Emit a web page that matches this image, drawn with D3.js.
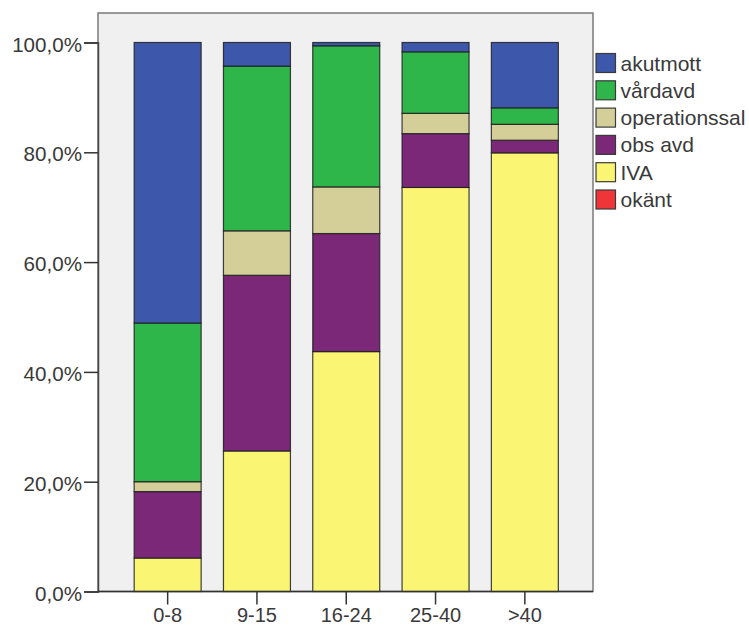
<!DOCTYPE html>
<html>
<head>
<meta charset="utf-8">
<script src="https://cdn.jsdelivr.net/npm/d3@7"></script>
<style>
  html, body { margin: 0; padding: 0; background: #ffffff; }
  svg { display: block; }
  text { font-family: "Liberation Sans", Arial, sans-serif; }
</style>
</head>
<body>
<svg id="chart" width="749" height="627"></svg>
<script>
// ---- Data ----
const categories = ["0-8", "9-15", "16-24", "25-40", ">40"];
const seriesNames = ["IVA", "obs avd", "operationssal", "vårdavd", "akutmott", "okänt"];
const IVA           = [6.1, 25.6, 43.7, 73.6, 79.9];
const obsAvd        = [12.1, 32.0, 21.5, 9.8, 2.3];
const operationssal = [1.8, 8.1, 8.5, 3.7, 2.9];
const vardavd       = [28.9, 30.0, 25.7, 11.2, 3.0];
const akutmott      = [51.1, 4.3, 0.6, 1.7, 11.9];
const okant         = [0, 0, 0, 0, 0];
const yTicks = [0, 20, 40, 60, 80, 100];
const legendOrder = ["akutmott", "vårdavd", "operationssal", "obs avd", "IVA", "okänt"];

const colors = {
  "akutmott": "#3d58aa",
  "vårdavd": "#2fb64a",
  "operationssal": "#d4cf98",
  "obs avd": "#7b2879",
  "IVA": "#faf572",
  "okänt": "#ef3538"
};

const rows = categories.map((c, i) => ({
  cat: c,
  "IVA": IVA[i],
  "obs avd": obsAvd[i],
  "operationssal": operationssal[i],
  "vårdavd": vardavd[i],
  "akutmott": akutmott[i],
  "okänt": okant[i]
}));

// ---- Layout ----
const svg = d3.select("#chart");
const frame = { left: 98, top: 13, right: 593, bottom: 591.5 };

const x = d3.scaleBand()
  .domain(categories)
  .range([123, 569.5])
  .paddingInner(0.25)
  .paddingOuter(0.125);

const y = d3.scaleLinear()
  .domain([0, 100])
  .range([591.5, 42.5]);

// plot background
svg.append("rect")
  .attr("x", frame.left).attr("y", frame.top)
  .attr("width", frame.right - frame.left)
  .attr("height", frame.bottom - frame.top)
  .attr("fill", "#f0f0f0")
  .attr("stroke", "#7a7a7a")
  .attr("stroke-width", 1.5);

// stacked bars
const stack = d3.stack().keys(seriesNames);
const stacked = stack(rows);

const g = svg.append("g");
stacked.forEach(layer => {
  g.selectAll(null)
    .data(layer.filter(d => d[1] - d[0] > 0))
    .enter()
    .append("rect")
    .attr("x", d => x(d.data.cat))
    .attr("y", d => y(d[1]))
    .attr("width", x.bandwidth())
    .attr("height", d => y(d[0]) - y(d[1]))
    .attr("fill", colors[layer.key])
    .attr("stroke", "#1e1e1e")
    .attr("stroke-opacity", 0.85)
    .attr("stroke-width", 1.2);
});

// Y axis
const yAxis = d3.axisLeft(y)
  .tickValues(yTicks)
  .tickSize(14)
  .tickPadding(2)
  .tickFormat(d => d3.format(".1f")(d).replace(".", ",") + "%");

const yg = svg.append("g")
  .attr("transform", `translate(${frame.left},0)`)
  .call(yAxis);
yg.select(".domain").attr("stroke", "#444").attr("stroke-width", 1.5);
yg.selectAll(".tick line").attr("stroke", "#333").attr("stroke-width", 1.5);
yg.selectAll(".tick text")
  .attr("fill", "#3a3a3a")
  .attr("font-size", "20.6px")
  .attr("dy", "0.42em");

// X axis
const xAxis = d3.axisBottom(x).tickSize(13).tickPadding(3);
const xg = svg.append("g")
  .attr("transform", `translate(0,${frame.bottom})`)
  .call(xAxis);
xg.select(".domain").remove();
xg.append("line")
  .attr("x1", frame.left).attr("x2", frame.right)
  .attr("y1", 0).attr("y2", 0)
  .attr("stroke", "#333").attr("stroke-width", 1.5);
xg.selectAll(".tick line").attr("stroke", "#333").attr("stroke-width", 1.5);
xg.selectAll(".tick text")
  .attr("fill", "#3a3a3a")
  .attr("font-size", "20px");

// Legend
const legend = svg.append("g").attr("transform", "translate(596,53.5)");
const step = 27.3;
legendOrder.forEach((name, i) => {
  const lg = legend.append("g").attr("transform", `translate(0,${i * step})`);
  lg.append("rect")
    .attr("x", 0).attr("y", 0)
    .attr("width", 19.5).attr("height", 19)
    .attr("fill", colors[name])
    .attr("stroke", "#3a3a3a")
    .attr("stroke-width", 1.2);
  lg.append("text")
    .attr("x", 24.5).attr("y", 9.5)
    .attr("dy", "0.36em")
    .attr("font-size", "21px")
    .attr("fill", "#3a3a3a")
    .text(name);
});
</script>
</body>
</html>
